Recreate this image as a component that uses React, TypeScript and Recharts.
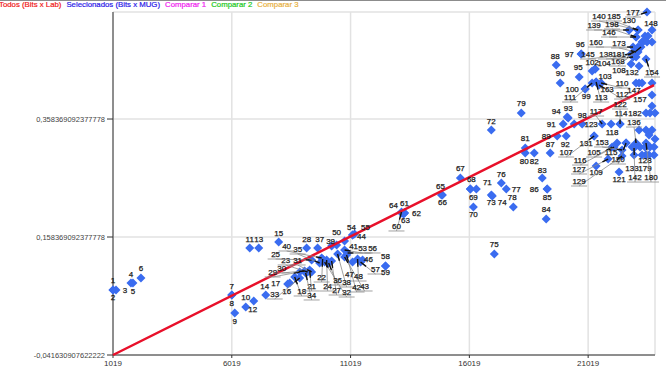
import { ScatterChart, Scatter, XAxis, YAxis, CartesianGrid } from "recharts";

document.body.style.margin = "0";

const legendNames = ["Todos (Bits x Lab)", "Selecionados (Bits x MUG)", "Comparar 1", "Comparar 2", "Comparar 3"];
const legendColors = ["#f01818", "#2a18e8", "#f020f0", "#20c820", "#e8b040"];

const xTicks = [1019, 6019, 11019, 16019, 21019];
const yTicks = [-0.041630907622222, 0.158369092377778, 0.358369092377778];
const yTickLabels = ["-0,041630907622222", "0,158369092377778", "0,358369092377778"];

const trendX = [1019, 23791];
const trendY = [-0.04163, 0.416];

// "" = point without a visible label
const pointIds = [
  "1", "2", "3", "4", "5", "6", "7", "8", "9", "10", "11", "12", "13", "14", "15", "16", "17", "18",
  "21", "22", "23", "24", "25", "27", "28", "29", "30", "31", "32", "33", "34", "35", "36", "37", "38", "39", "40",
  "41", "42", "43", "44", "46", "47", "48", "50", "53", "54", "55", "56", "57", "58", "59",
  "60", "61", "62", "63", "64", "65", "66", "67", "68", "69", "70", "71", "72", "73", "74", "75", "76", "77", "78", "79",
  "80", "81", "82", "83", "84", "85", "86", "87", "88", "89", "90", "91", "92", "93", "94", "95", "96", "97", "98", "99",
  "100", "102", "103", "104", "105", "107", "108", "109", "110", "111", "112", "113", "114", "115", "116", "117", "118",
  "120", "121", "122", "123", "127", "128", "129", "130", "131", "132", "133", "136", "138", "139", "140", "142",
  "145", "146", "147", "148", "153", "154", "157", "160", "163", "168", "173", "177", "179", "180", "181", "182", "185", "198",
  "", "", "", "", "", "", "", "", "", "", "", "", "", "", "", "", "", "", "", "", "", "", "", "", "", "", "", "", "",
];

const pointX = [
  1019, 1019, 1145, 1775, 1859, 2195, 6019, 6019, 6145, 6943, 6775, 6607, 7153, 7448, 7994, 8456, 8372, 8666,
  9296, 9843, 9212, 10011, 9380, 10221, 9170, 8876, 9086, 9380, 9927, 8876, 9128, 9717, 10095, 9633, 10473, 10221, 9801,
  10767, 10851, 10767, 11103, 11523, 11103, 11313, 10431, 10767, 11103, 11187, 10893, 11439, 12490, 12490,
  13162, 13288, 13288, 13246, 13162, 14843, 14885, 15641, 16061, 16061, 16187, 16313, 16943, 16943, 16985, 17069, 17363, 17574, 17868, 18204,
  18372, 18372, 18750, 19086, 19254, 19296, 19296, 19422, 19675, 19717, 19843, 19969, 20095, 20179, 20137, 20641, 20725, 20725, 20431, 20893,
  20893, 21187, 21313, 21313, 22027, 21271, 22825, 21355, 21565, 21187, 21481, 21355, 22363, 22237, 22111, 21607, 21985,
  22615, 22321, 22363, 20767, 21859, 23455, 22447, 22741, 21271, 23161, 22951, 23035, 22909, 22741, 23119, 22951,
  22825, 23035, 23161, 23707, 22447, 23455, 23707, 22909, 21355, 23245, 23035, 23497, 23455, 23455, 22951, 23455, 23119, 23035,
  23413, 23539, 23287, 23329, 23707, 23497, 23119, 23035, 23119, 23035, 23287, 23707, 23707, 23623, 23833, 23161, 23455, 23707, 23581,
  23833, 23623, 23791, 22867, 23203, 23287, 23791, 22615, 23413, 23581,
];

const pointY = [
  0.0685, 0.0685, 0.0685, 0.0804, 0.0804, 0.0889, 0.0601, 0.0601, 0.0296, 0.0499, 0.1397, 0.0397, 0.1397, 0.0601, 0.1499, 0.0804, 0.0787, 0.0906,
  0.1025, 0.1211, 0.0991, 0.1194, 0.1194, 0.1177, 0.1397, 0.0991, 0.1008, 0.0991, 0.116, 0.0889, 0.0974, 0.1143, 0.1143, 0.1397, 0.1296, 0.1431, 0.1228,
  0.1516, 0.1279, 0.1245, 0.1618, 0.1194, 0.116, 0.1211, 0.1448, 0.1363, 0.1618, 0.1635, 0.1313, 0.116, 0.1092, 0.1092,
  0.2008, 0.1991, 0.1991, 0.1974, 0.1991, 0.2296, 0.2296, 0.2584, 0.2397, 0.2397, 0.2092, 0.2397, 0.3397, 0.2296, 0.2279, 0.1296, 0.2499, 0.2397, 0.2092, 0.3686,
  0.3008, 0.3092, 0.3008, 0.2584, 0.1889, 0.2397, 0.2397, 0.3008, 0.4499, 0.3296, 0.4194, 0.3499, 0.3296, 0.3601, 0.3618, 0.4296, 0.4686, 0.4686, 0.3499, 0.4092,
  0.4092, 0.4398, 0.4431, 0.4431, 0.3109, 0.3296, 0.4516, 0.2787, 0.4194, 0.4194, 0.416, 0.4211, 0.3499, 0.3177, 0.3109, 0.3499, 0.3499,
  0.3177, 0.2686, 0.3499, 0.3499, 0.2906, 0.2974, 0.2957, 0.5093, 0.3296, 0.4482, 0.2974, 0.3177, 0.4635, 0.5093, 0.5093, 0.3092,
  0.4686, 0.4974, 0.4194, 0.5093, 0.3059, 0.4601, 0.3991, 0.4804, 0.4211, 0.4804, 0.472, 0.5398, 0.2974, 0.3177, 0.472, 0.3686, 0.5093, 0.4974,
  0.4991, 0.4991, 0.4889, 0.4889, 0.4889, 0.4889, 0.4804, 0.4635, 0.472, 0.4194, 0.4194, 0.4194, 0.3804, 0.3686, 0.3686, 0.3397, 0.3397, 0.3397, 0.3313,
  0.3245, 0.3109, 0.3109, 0.3109, 0.3109, 0.2974, 0.2974, 0.3177, 0.3109, 0.2974,
];

const labelOffsets = [
  [0, -10], [0, 7], [9, 0], [0, -9], [0, 8], [0, -10], [0, -9], [0, 8], [0, 8], [-8, -4], [0, -9], [7, 2], [0, -9], [-1, -9], [0, -9], [-3, 8], [-12, -1], [7, 14],
  [2, 16], [-1, 18], [-22, -12], [1, 26], [-36, -6], [5, 29], [0, -9], [-27, 0], [-23, -3], [-14, -12], [22, 30], [-25, 16], [6, 22], [-22, -14], [9, 17], [2, -9], [9, 28], [-1, -5], [-35, -12],
  [9, 5], [10, 32], [20, 29], [9, 1], [6, -1], [-3, 12], [1, 17], [0, -13], [18, -2], [-1, -8], [11, -7], [25, -5], [15, 7], [0, -10], [0, 6],
  [-5, 14], [0, -10], [12, 0], [2, 6], [-8, -8], [-1, -9], [0, 7], [0, -10], [1, -10], [3, 8], [0, 7], [11, -7], [0, -9], [0, 7], [10, 6], [0, -10], [0, -9], [10, 0], [-1, -10], [0, -10],
  [-1, 8], [0, -10], [0, 8], [0, -8], [0, -10], [0, 8], [-13, 0], [0, -9], [-1, -9], [-11, 0], [0, -10], [-12, 0], [-1, 8], [0, -10], [-11, -6], [-1, -10], [-1, -10], [-12, 0], [8, -9], [1, 7],
  [-13, 0], [0, -9], [10, 7], [9, -6], [-18, 5], [-28, 16], [-12, 6], [0, 6], [21, 0], [-22, 14], [23, 9], [5, 15], [1, -11], [-6, 9], [-34, 13], [-6, -13], [1, 8],
  [-8, 16], [0, 7], [0, -20], [9, 0], [-29, 10], [-1, 5], [-43, 25], [0, -10], [-8, 7], [-7, 6], [-2, 13], [-2, -21], [-27, -3], [-35, -5], [-39, -14], [1, 29],
  [-43, 0], [-27, -5], [-5, 7], [-1, -7], [-20, -8], [6, 13], [-12, 4], [-37, -5], [11, 7], [-23, 14], [-17, -9], [-14, 0], [-1, 13], [5, 34], [-15, 2], [-11, 0], [-24, -14], [-24, -13],
  [0, 0], [0, 0], [0, 0], [0, 0], [0, 0], [0, 0], [0, 0], [0, 0], [0, 0], [0, 0], [0, 0], [0, 0], [0, 0], [0, 0], [0, 0], [0, 0], [0, 0], [0, 0], [0, 0],
  [0, 0], [0, 0], [0, 0], [0, 0], [0, 0], [0, 0], [0, 0], [0, 0], [0, 0], [0, 0],
];

const pointData = pointIds.map((id, i) => ({
  id,
  x: pointX[i],
  y: pointY[i],
  dx: labelOffsets[i][0],
  dy: labelOffsets[i][1],
}));
const trendData = trendX.map((x, i) => ({ x, y: trendY[i] }));

const Diamond = ({ cx, cy }: any) => (
  <polygon
    points={`${cx - 4.5},${cy} ${cx},${cy - 4.5} ${cx + 4.5},${cy} ${cx},${cy + 4.5}`}
    fill="#3a6cf0"
  />
);

const PointLabel = ({ cx, cy, payload }: any) => {
  const { id, dx, dy } = payload;
  if (!id) return <g />;
  const lx = cx + dx;
  const ly = cy + dy;
  const far = Math.hypot(dx, dy) >= 14;
  const len = Math.hypot(dx, dy) || 1;
  return (
    <g>
      {far && (
        <>
          <line x1={cx} y1={cy} x2={lx} y2={ly + 5} stroke="#8a8a8a" strokeWidth={0.8} />
          <line x1={lx - 8} y1={ly + 5} x2={lx + 8} y2={ly + 5} stroke="#8a8a8a" strokeWidth={0.8} />
          <line x1={cx} y1={cy} x2={cx + (dx / len) * 6} y2={cy + ((dy + 5) / len) * 6} stroke="#111" strokeWidth={1.4} />
        </>
      )}
      <text
        x={lx}
        y={ly + 3}
        textAnchor="middle"
        fontSize={8}
        fill="#1a1a1a"
        stroke="#1a1a1a"
        strokeWidth={0.25}
        fontFamily="Liberation Sans"
      >
        {id}
      </text>
    </g>
  );
};

const NoDot = () => <g />;

export default function App() {
  return (
    <div style={{ width: 666, height: 370, position: "relative", background: "#fff", overflow: "hidden" }}>
      <div style={{ position: "absolute", top: 0, left: 0, width: 666, height: 1, background: "#8c8c8c" }} />
      <div
        style={{
          position: "absolute",
          top: 0,
          left: -1,
          display: "flex",
          fontFamily: "Liberation Sans",
          fontSize: 7.8,
          whiteSpace: "nowrap",
          lineHeight: "10px",
          WebkitTextStroke: "0.2px",
        }}
      >
        {legendNames.map((name, i) => (
          <span key={name} style={{ color: legendColors[i], marginRight: 5 }}>
            {name}
          </span>
        ))}
      </div>
      <ScatterChart width={666} height={370} margin={{ top: 12, right: 11, bottom: 0, left: 0 }}>
        <CartesianGrid stroke="#e2e2e2" strokeWidth={1.5} />
        <XAxis
          type="number"
          dataKey="x"
          domain={[1019, 23792]}
          ticks={xTicks}
          interval={0}
          height={15}
          tickSize={3}
          tickMargin={2}
          stroke="#333"
          tick={{ fontSize: 8, fill: "#333", fontFamily: "Liberation Sans" }}
        />
        <YAxis
          type="number"
          dataKey="y"
          domain={[-0.041630907622222, 0.5398]}
          ticks={yTicks}
          interval={0}
          width={113}
          tickSize={6}
          tickMargin={2}
          stroke="#333"
          tickFormatter={(_v: number, i: number) => yTickLabels[i]}
          tick={{ fontSize: 7.5, fill: "#444", fontFamily: "Liberation Sans" }}
        />
        <Scatter data={pointData} shape={Diamond} isAnimationActive={false} />
        <Scatter
          data={trendData}
          line={{ stroke: "#e8102a", strokeWidth: 2.5 }}
          shape={NoDot}
          isAnimationActive={false}
        />
        <Scatter data={pointData} shape={PointLabel} isAnimationActive={false} />
      </ScatterChart>
    </div>
  );
}
